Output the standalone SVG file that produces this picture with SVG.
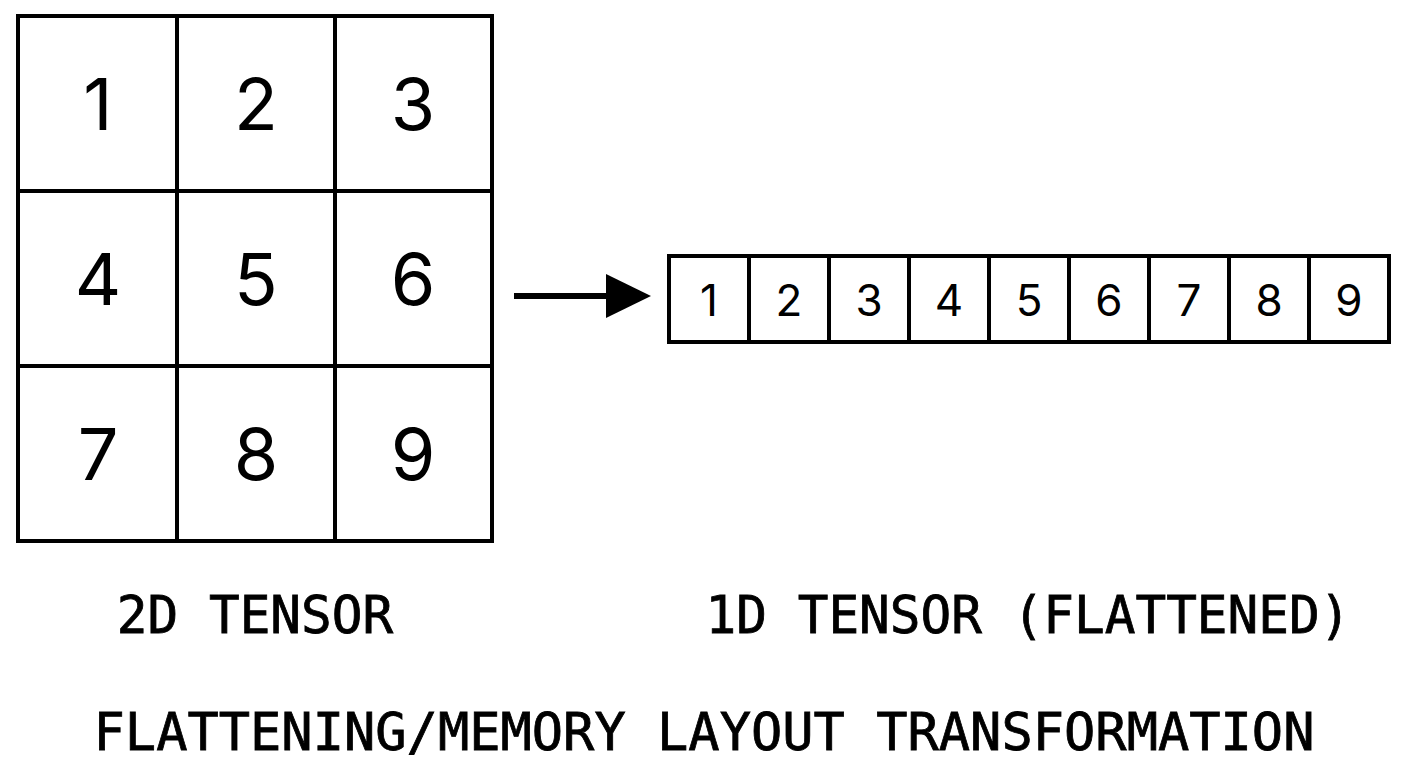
<svg xmlns="http://www.w3.org/2000/svg" width="1408" height="768" viewBox="0 0 1408 768">
<style>
.c{fill:#fff;stroke:#000;stroke-width:4}
.n{font-family:Inter,"DejaVu Sans",sans-serif;text-anchor:middle;fill:#000}
.big{font-size:72px}
.sm{font-size:44px}
.lbl{font-family:"DejaVu Sans Mono","Liberation Mono",monospace;text-anchor:middle;font-size:51px;fill:#000;stroke:#000;stroke-width:0.8}
</style>
<rect width="1408" height="768" fill="#fff"/>
<g id="grid">
<rect class="c" x="18" y="16" width="474" height="525"/>
<line class="c" x1="177" y1="16" x2="177" y2="541"/><line class="c" x1="335" y1="16" x2="335" y2="541"/>
<line class="c" x1="18" y1="191" x2="492" y2="191"/><line class="c" x1="18" y1="366" x2="492" y2="366"/>
<g class="n big">
<text x="98" y="130">1</text><text x="256" y="130">2</text><text x="413" y="130">3</text>
<text x="98" y="305">4</text><text x="256" y="305">5</text><text x="413" y="305">6</text>
<text x="98" y="480">7</text><text x="256" y="480">8</text><text x="413" y="480">9</text>
</g>
</g>
<g id="flat">
<rect class="c" x="669" y="256" width="720" height="86"/>
<line class="c" x1="749" y1="256" x2="749" y2="342"/><line class="c" x1="829" y1="256" x2="829" y2="342"/>
<line class="c" x1="909" y1="256" x2="909" y2="342"/><line class="c" x1="989" y1="256" x2="989" y2="342"/>
<line class="c" x1="1069" y1="256" x2="1069" y2="342"/><line class="c" x1="1149" y1="256" x2="1149" y2="342"/>
<line class="c" x1="1229" y1="256" x2="1229" y2="342"/><line class="c" x1="1309" y1="256" x2="1309" y2="342"/>
<g class="n sm">
<text x="709" y="316">1</text><text x="789" y="316">2</text><text x="869" y="316">3</text><text x="949" y="316">4</text><text x="1029" y="316">5</text><text x="1109" y="316">6</text><text x="1189" y="316">7</text><text x="1269" y="316">8</text><text x="1349" y="316">9</text>
</g>
</g>
<g id="connectors">
<line x1="514" y1="296" x2="615" y2="296" stroke="#000" stroke-width="6"/>
<polygon points="606,274 651,296 606,318" fill="#000"/>
</g>
<g id="labels">
<text class="lbl" x="255" y="633">2D TENSOR</text>
<text class="lbl" x="1028" y="633">1D TENSOR (FLATTENED)</text>
<text class="lbl" x="704" y="750" style="font-size:52px">FLATTENING/MEMORY LAYOUT TRANSFORMATION</text>
</g>
</svg>
